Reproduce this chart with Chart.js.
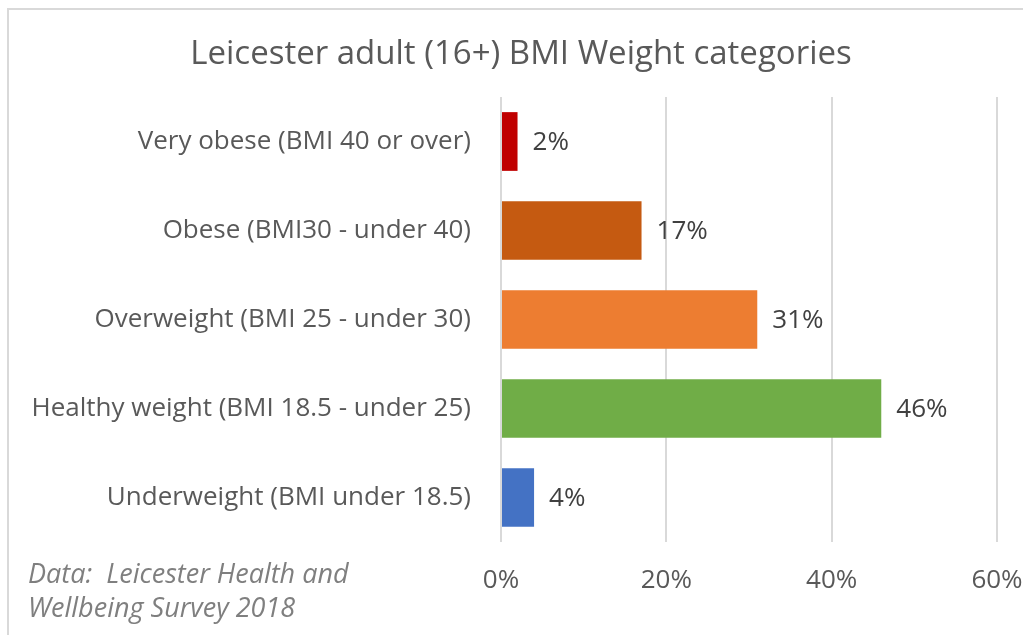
<!DOCTYPE html>
<html>
<head>
<meta charset="utf-8">
<script src="https://cdn.jsdelivr.net/npm/chart.js@4"></script>
<style>
  html, body { margin: 0; padding: 0; background: #ffffff; }
  #wrap { position: relative; width: 1023px; height: 635px; overflow: hidden; }
  #frame {
    position: absolute; left: 7px; top: 8px; width: 1100px; height: 700px;
    border-top: 2px solid #d9d9d9; border-left: 2px solid #d9d9d9;
    box-sizing: border-box;
  }
  #chart { position: absolute; left: 0; top: 0; }
  #note {
    position: absolute; left: 28px; top: 556px;
    font-family: "Open Sans", "Liberation Sans", sans-serif; font-style: italic;
    font-size: 27px; line-height: 34px; color: #7f7f7f;
  }
</style>
</head>
<body>
<div id="wrap">
  <div id="frame"></div>
  <canvas id="chart" width="1023" height="635"></canvas>
  <div id="note">Data:&nbsp; Leicester Health and<br>Wellbeing Survey 2018</div>
</div>
<script>
const categories = [
  'Very obese (BMI 40 or over)',
  'Obese (BMI30 - under 40)',
  'Overweight (BMI 25 - under 30)',
  'Healthy weight (BMI 18.5 - under 25)',
  'Underweight (BMI under 18.5)'
];
const percentages = [2, 17, 31, 46, 4];
const barColors = ['#C00000', '#C55A11', '#ED7D31', '#70AD47', '#4472C4'];
const axisTicks = [0, 20, 40, 60];
const chartTitle = 'Leicester adult (16+) BMI Weight categories';

const FONT = '"Open Sans", "Liberation Sans", sans-serif';

// Writes each bar's percentage just past its end
const valueLabels = {
  id: 'valueLabels',
  afterDatasetsDraw(chart) {
    const ctx = chart.ctx;
    const meta = chart.getDatasetMeta(0);
    ctx.save();
    ctx.font = '26px ' + FONT;
    ctx.fillStyle = '#404040';
    ctx.textAlign = 'left';
    ctx.textBaseline = 'middle';
    meta.data.forEach((bar, i) => {
      ctx.fillText(percentages[i] + '%', bar.x + 15, bar.y + 1);
    });
    ctx.restore();
  }
};

// Heading centred over the whole framed area, which starts left of the canvas centre
const heading = {
  id: 'heading',
  afterDraw(chart) {
    const ctx = chart.ctx;
    ctx.save();
    ctx.font = '33px ' + FONT;
    ctx.fillStyle = '#595959';
    ctx.textAlign = 'center';
    ctx.textBaseline = 'middle';
    ctx.fillText(chartTitle, 521, 55);
    ctx.restore();
  }
};

new Chart(document.getElementById('chart'), {
  type: 'bar',
  data: {
    labels: categories,
    datasets: [{
      data: percentages,
      backgroundColor: barColors,
      borderWidth: 0,
      categoryPercentage: 1,
      barPercentage: 0.66
    }]
  },
  options: {
    indexAxis: 'y',
    responsive: false,
    animation: false,
    layout: { padding: { left: 0, right: 26, top: 97, bottom: 0 } },
    plugins: {
      legend: { display: false },
      tooltip: { enabled: false },
      title: { display: false }
    },
    scales: {
      x: {
        min: 0,
        max: 60,
        afterBuildTicks(scale) { scale.ticks = axisTicks.map(v => ({ value: v })); },
        afterFit(scale) {
          scale.height = 93;
          scale.paddingLeft = 0;
          scale.paddingRight = 0;
        },
        grid: { color: '#d9d9d9', lineWidth: 2, drawTicks: false },
        border: { display: false },
        ticks: {
          padding: 23,
          color: '#595959',
          font: { family: FONT, size: 26 },
          callback: v => v + '%'
        }
      },
      y: {
        afterFit(scale) {
          scale.width = 501;
          scale.paddingTop = 0;
          scale.paddingBottom = 0;
        },
        grid: { display: false, drawTicks: false },
        border: { display: false },
        ticks: {
          padding: 30,
          color: '#595959',
          font: { family: FONT, size: 26 }
        }
      }
    }
  },
  plugins: [valueLabels, heading]
});
</script>
</body>
</html>
